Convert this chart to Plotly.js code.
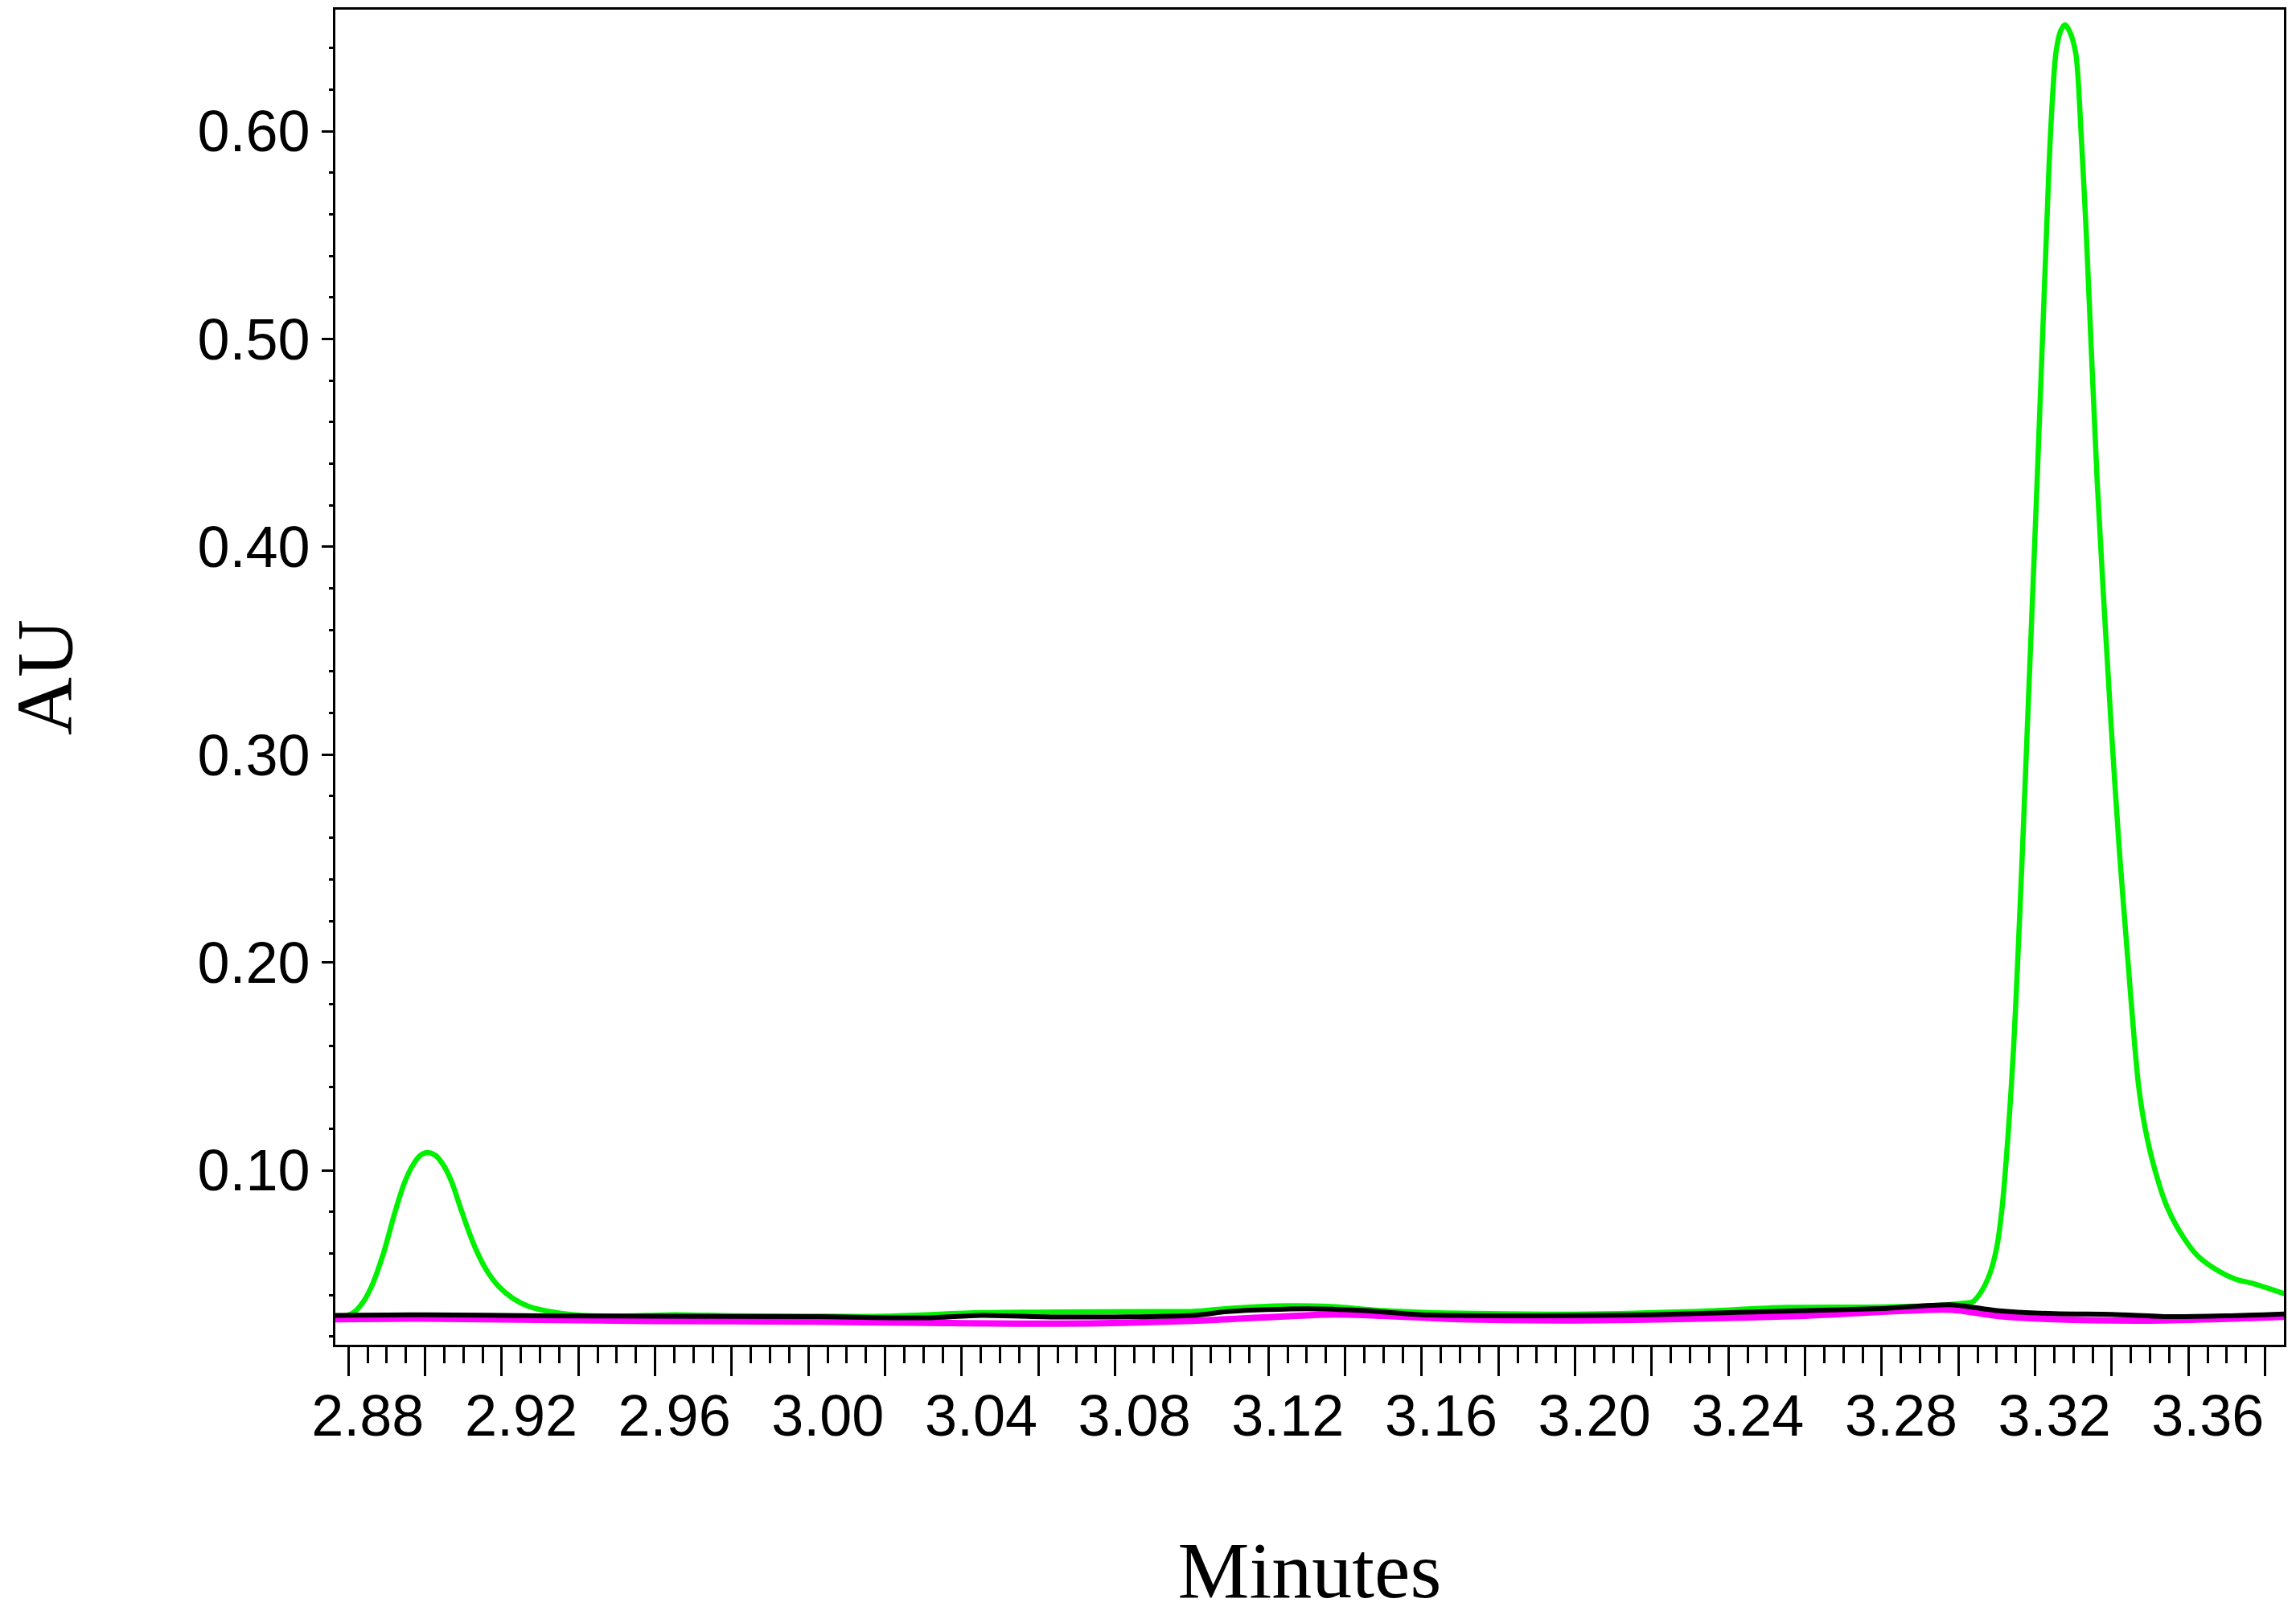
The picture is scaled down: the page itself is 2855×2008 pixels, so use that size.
<!DOCTYPE html>
<html>
<head>
<meta charset="utf-8">
<script src="https://cdn.plot.ly/plotly-3.0.1.min.js"></script>
<style>
  html, body { margin: 0; padding: 0; background: #ffffff; }
  #chart { width: 2855px; height: 2008px; }
</style>
</head>
<body>
<div id="chart"></div>
<script>
// ---- Data ----
const greenX = [2.8766, 2.8795, 2.8815, 2.8836, 2.8860, 2.8892, 2.8920, 2.8945, 2.8968, 2.8988, 2.9007, 2.9026, 2.9046, 2.9068, 2.9094, 2.9115, 2.9136, 2.9160, 2.9190, 2.9228, 2.9270, 2.9319, 2.9388,
  2.9500, 2.9650, 2.9800, 3.0000, 3.0200, 3.0450, 3.0656, 3.0900, 3.1005, 3.1100, 3.1250, 3.1356, 3.1500, 3.1700, 3.2000, 3.2300, 3.2550, 3.2800, 3.2950,
  3.3010, 3.3037, 3.3058, 3.3082, 3.3100, 3.3114, 3.3131, 3.3144, 3.3154, 3.3166, 3.3180, 3.3205, 3.3229, 3.3240, 3.3254, 3.3266, 3.3278, 3.3290, 3.3306, 3.3320, 3.3334,
  3.3362, 3.3398, 3.3420, 3.3443, 3.3458, 3.3470, 3.3486, 3.3510, 3.3544, 3.3580, 3.3622, 3.3667, 3.3723, 3.3765, 3.3852];
const greenY = [0.0295, 0.0300, 0.0318, 0.0360, 0.0440, 0.0605, 0.0790, 0.0935, 0.1025, 0.1072, 0.1085, 0.1073, 0.1030, 0.0950, 0.0810, 0.0700, 0.0605, 0.0520, 0.0445, 0.0385, 0.0345, 0.0322, 0.0305,
  0.0298, 0.0305, 0.0300, 0.0298, 0.0298, 0.0315, 0.0318, 0.0320, 0.0321, 0.0336, 0.0348, 0.0345, 0.0325, 0.0312, 0.0308, 0.0320, 0.0340, 0.0342, 0.0350,
  0.0360, 0.0367, 0.0412, 0.0503, 0.0631, 0.0824, 0.1212, 0.1599, 0.1986, 0.2500, 0.3148, 0.4309, 0.5483, 0.5986, 0.6374, 0.6480, 0.6512, 0.6480, 0.6374, 0.5986, 0.5483,
  0.4309, 0.3148, 0.2530, 0.1986, 0.1640, 0.1405, 0.1212, 0.1018, 0.0824, 0.0697, 0.0592, 0.0528, 0.0476, 0.0457, 0.0405];

const blackX = [2.8766, 2.9000, 2.9300, 2.9600, 3.0000, 3.0306, 3.0450, 3.0650, 3.1005, 3.1100, 3.1300, 3.1450, 3.1600, 3.1900, 3.2200, 3.2500, 3.2800, 3.2980, 3.3100, 3.3250, 3.3400, 3.3550, 3.3700, 3.3852];
const blackY = [0.0302, 0.0305, 0.0300, 0.0298, 0.0296, 0.0290, 0.0302, 0.0294, 0.0302, 0.0321, 0.0334, 0.0325, 0.0305, 0.0300, 0.0305, 0.0320, 0.0335, 0.0353, 0.0325, 0.0310, 0.0307, 0.0296, 0.0300, 0.0309];

const magentaX = [2.8766, 2.9000, 2.9300, 2.9600, 3.0000, 3.0306, 3.0650, 3.1005, 3.1356, 3.1500, 3.1700, 3.2000, 3.2300, 3.2600, 3.2980, 3.3100, 3.3250, 3.3500, 3.3700, 3.3852];
const magentaY = [0.0283, 0.0286, 0.0280, 0.0275, 0.0272, 0.0266, 0.0262, 0.0276, 0.0306, 0.0300, 0.0283, 0.0278, 0.0285, 0.0300, 0.0329, 0.0300, 0.0283, 0.0277, 0.0285, 0.0295];

const xTickVals = [2.88, 2.90, 2.92, 2.94, 2.96, 2.98, 3.00, 3.02, 3.04, 3.06, 3.08, 3.10, 3.12, 3.14, 3.16, 3.18, 3.20, 3.22, 3.24, 3.26, 3.28, 3.30, 3.32, 3.34, 3.36, 3.38];
const xTickText = ["2.88", "", "2.92", "", "2.96", "", "3.00", "", "3.04", "", "3.08", "", "3.12", "", "3.16", "", "3.20", "", "3.24", "", "3.28", "", "3.32", "", "3.36", ""];
const yTickVals = [0.10, 0.20, 0.30, 0.40, 0.50, 0.60];
const yTickText = ["0.10", "0.20", "0.30", "0.40", "0.50", "0.60"];
const xTitle = "Minutes";
const yTitle = "AU";

const traces = [
  { x: greenX, y: greenY, type: 'scatter', mode: 'lines', line: { color: '#00f000', width: 6.5, shape: 'spline', smoothing: 0.8 }, hoverinfo: 'skip' },
  { x: magentaX, y: magentaY, type: 'scatter', mode: 'lines', line: { color: '#ff00ff', width: 8, shape: 'spline', smoothing: 0.8 }, hoverinfo: 'skip' },
  { x: blackX, y: blackY, type: 'scatter', mode: 'lines', line: { color: '#000000', width: 6, shape: 'spline', smoothing: 0.8 }, hoverinfo: 'skip' }
];

const layout = {
  width: 2855, height: 2008,
  paper_bgcolor: '#ffffff', plot_bgcolor: '#ffffff',
  showlegend: false,
  margin: { l: 417, r: 15, t: 12, b: 336, pad: 0 },
  font: { family: 'Liberation Sans, Arial, sans-serif', color: '#000000' },
  xaxis: {
    range: [2.87658, 3.3849],
    tickmode: 'array', tickvals: xTickVals, ticktext: xTickText,
    ticks: 'outside', ticklen: 36, tickwidth: 3, tickcolor: '#000',
    minor: { tickmode: 'linear', tick0: 2.88, dtick: 0.005, ticks: 'outside', ticklen: 20, tickwidth: 3, tickcolor: '#000' },
    tickfont: { family: 'Liberation Sans, Arial, sans-serif', size: 72, color: '#000' },
    ticklabelshift: 24, ticklabelstandoff: -12,
    showline: true, linecolor: '#000', linewidth: 3, mirror: true,
    showgrid: false, zeroline: false, automargin: false,
    title: { text: xTitle, font: { family: 'Liberation Serif, Times New Roman, serif', size: 100, color: '#000' }, standoff: 128 }
  },
  yaxis: {
    range: [0.01605, 0.6585],
    tickmode: 'array', tickvals: yTickVals, ticktext: yTickText,
    ticks: 'outside', ticklen: 14, tickwidth: 3, tickcolor: '#000',
    minor: { tickmode: 'linear', tick0: 0, dtick: 0.02, ticks: 'outside', ticklen: 5, tickwidth: 3, tickcolor: '#000' },
    tickfont: { family: 'Liberation Sans, Arial, sans-serif', size: 72, color: '#000' },
    showline: true, linecolor: '#000', linewidth: 3, mirror: true,
    showgrid: false, zeroline: false, automargin: false,
    title: { text: yTitle, font: { family: 'Liberation Serif, Times New Roman, serif', size: 100, color: '#000' }, standoff: 150 }
  }
};

Plotly.newPlot('chart', traces, layout, { staticPlot: true, displayModeBar: false });
</script>
</body>
</html>
